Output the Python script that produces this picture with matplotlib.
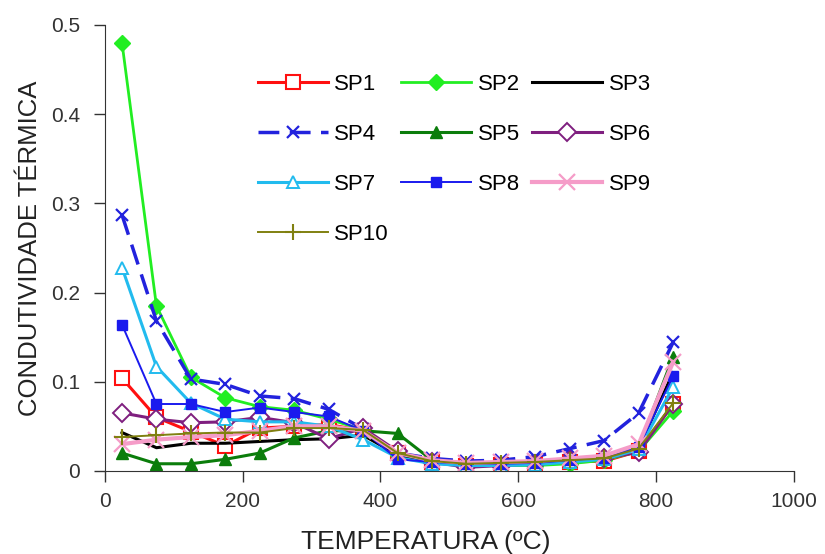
import matplotlib
matplotlib.use("Agg")
import matplotlib.pyplot as plt
from matplotlib import font_manager

temperature = [25, 75, 125, 175, 225, 275, 325, 375, 425, 475, 525, 575, 625, 675, 725, 775, 825]

sp1 = [0.104, 0.060, 0.044, 0.028, 0.048, 0.050, 0.052, 0.045, 0.020, 0.010, 0.006, 0.007, 0.008, 0.010, 0.011, 0.022, 0.075]
sp2 = [0.480, 0.185, 0.105, 0.082, 0.072, 0.068, 0.058, 0.046, 0.018, 0.010, 0.006, 0.006, 0.006, 0.008, 0.012, 0.022, 0.067]
sp3 = [0.043, 0.026, 0.031, 0.031, 0.033, 0.035, 0.036, 0.040, 0.018, 0.010, 0.007, 0.008, 0.009, 0.011, 0.014, 0.026, 0.110]
sp4 = [0.287, 0.168, 0.103, 0.097, 0.084, 0.081, 0.069, 0.047, 0.020, 0.014, 0.011, 0.012, 0.016, 0.025, 0.034, 0.065, 0.144]
sp5 = [0.020, 0.008, 0.008, 0.013, 0.020, 0.037, 0.045, 0.045, 0.042, 0.012, 0.008, 0.008, 0.009, 0.011, 0.014, 0.026, 0.128]
sp6 = [0.065, 0.058, 0.054, 0.055, 0.060, 0.054, 0.036, 0.048, 0.022, 0.010, 0.004, 0.006, 0.008, 0.012, 0.014, 0.021, 0.075]
sp7 = [0.228, 0.117, 0.076, 0.058, 0.055, 0.055, 0.050, 0.035, 0.015, 0.008, 0.006, 0.006, 0.007, 0.010, 0.013, 0.024, 0.094]
sp8 = [0.164, 0.075, 0.075, 0.066, 0.071, 0.066, 0.061, 0.045, 0.013, 0.010, 0.008, 0.008, 0.009, 0.012, 0.015, 0.027, 0.106]
sp9 = [0.030, 0.035, 0.038, 0.040, 0.045, 0.050, 0.050, 0.045, 0.020, 0.012, 0.009, 0.010, 0.011, 0.014, 0.017, 0.030, 0.122]
sp10 = [0.038, 0.040, 0.042, 0.043, 0.043, 0.048, 0.048, 0.046, 0.020, 0.011, 0.008, 0.009, 0.010, 0.012, 0.014, 0.025, 0.076]

series_names = ["SP1", "SP2", "SP3", "SP4", "SP5", "SP6", "SP7", "SP8", "SP9", "SP10"]
series_values = [sp1, sp2, sp3, sp4, sp5, sp6, sp7, sp8, sp9, sp10]

x_ticks = [0, 200, 400, 600, 800, 1000]
y_ticks = [0, 0.1, 0.2, 0.3, 0.4, 0.5]
y_tick_labels = ["0", "0.1", "0.2", "0.3", "0.4", "0.5"]

styles = [
    dict(color="#ff1010", marker="s", mfc="white", mec="#ff1010", ms=10, lw=2.2, mew=1.5),
    dict(color="#22ee22", marker="D", mfc="#22ee22", mec="#22ee22", ms=8, lw=2.0),
    dict(color="#000000", marker=None, lw=2.2),
    dict(color="#2222dd", marker="x", ms=9, lw=2.5, mew=1.6, dashes=(6, 3)),
    dict(color="#0b7d0b", marker="^", mfc="#0b7d0b", mec="#0b7d0b", ms=8, lw=2.2),
    dict(color="#7f1f7f", marker="D", mfc="white", mec="#7f1f7f", ms=9, lw=2.2, mew=1.4),
    dict(color="#22bbee", marker="^", mfc="white", mec="#22bbee", ms=8, lw=2.2, mew=1.4),
    dict(color="#1a1aee", marker="s", mfc="#1a1aee", mec="#1a1aee", ms=7, lw=1.4),
    dict(color="#f59cc8", marker="x", ms=11, lw=3.0, mew=1.6),
    dict(color="#808010", marker="+", ms=12, lw=1.4, mew=1.5),
]

avail = {f.name for f in font_manager.fontManager.ttflist}
base_font = "Liberation Sans" if "Liberation Sans" in avail else "DejaVu Sans"
narrow_font = "Liberation Sans Narrow" if "Liberation Sans Narrow" in avail else base_font
plt.rcParams["font.family"] = [base_font, "DejaVu Sans"]

fig = plt.figure(figsize=(8.25, 5.54), dpi=100)
ax = fig.add_axes([0.127, 0.150, 0.835, 0.805])

handles = []
for name, vals, st in zip(series_names, series_values, styles):
    st = dict(st)
    dashes = st.pop("dashes", None)
    (ln,) = ax.plot(temperature, vals, label=name, **st)
    if dashes:
        ln.set_dashes(dashes)
    handles.append(ln)

ax.set_xlim(0, 1000)
ax.set_ylim(0, 0.5)
ax.set_xticks(x_ticks)
ax.set_yticks(y_ticks)
ax.set_yticklabels(y_tick_labels)
ax.tick_params(direction="out", length=8, width=1, labelsize=15, colors="#333333")
ax.tick_params(axis="x", pad=7)
ax.tick_params(axis="y", pad=10)
for s in ["top", "right"]:
    ax.spines[s].set_visible(False)
for s in ["left", "bottom"]:
    ax.spines[s].set_color("#333333")

ax.set_xlabel("TEMPERATURA (ºC)", fontsize=19, family=[narrow_font, "DejaVu Sans"], color="#222222", labelpad=14)
ax.xaxis.label.set_x(0.466)
ax.set_ylabel("CONDUTIVIDADE TÉRMICA", fontsize=18.5, color="#222222", labelpad=6)

order = [0, 3, 6, 9, 1, 4, 7, 2, 5, 8]
leg = ax.legend([handles[i] for i in order], [series_names[i] for i in order],
                ncol=3, frameon=False, fontsize=16, handlelength=3.15,
                handletextpad=0.3, columnspacing=0.55, labelspacing=1.3,
                loc="upper left", bbox_to_anchor=(0.193, 0.935))

fig.savefig("out.png", dpi=100)
